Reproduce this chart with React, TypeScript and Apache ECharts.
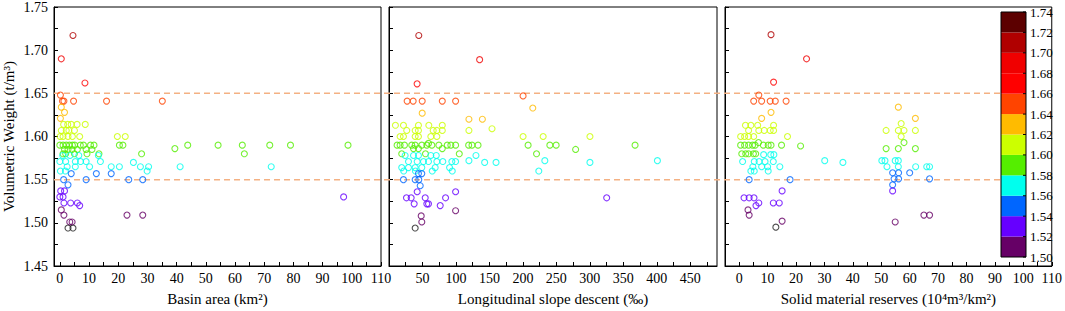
import React, { useEffect, useRef } from "react";
import * as echarts from "echarts";

// ---------- data ----------
const basinArea: number[][] = [
  [4.5, 1.717], [0.5, 1.69], [8.6, 1.662], [0.2, 1.648], [0.9, 1.641], [1.4, 1.641], [4.7, 1.641], [16, 1.641], [35.1, 1.641],
  [0.5, 1.634], [1.6, 1.628], [0.2, 1.621],
  [1.3, 1.614], [2.7, 1.614], [3.9, 1.614], [5.9, 1.614], [8.7, 1.614],
  [0.5, 1.607], [2.2, 1.607], [3.1, 1.607], [5, 1.607],
  [0.1, 1.6], [1.1, 1.6], [2.8, 1.6], [4.3, 1.6], [6.8, 1.6], [19.7, 1.6], [22.4, 1.6],
  [0, 1.59], [1.1, 1.59], [2.2, 1.59], [3.3, 1.59], [4.3, 1.59], [5.1, 1.59], [7, 1.59], [8.1, 1.59], [10.5, 1.59], [11.7, 1.59],
  [20.4, 1.59], [21.6, 1.59], [43.8, 1.59], [54.2, 1.59], [62.5, 1.59], [71.9, 1.59], [79, 1.59], [98.7, 1.59],
  [1.6, 1.585], [2.8, 1.585], [4.2, 1.585], [6, 1.585], [9, 1.585], [11, 1.585], [39.4, 1.586],
  [1.1, 1.58], [2, 1.58], [5, 1.58], [9.3, 1.58], [13.4, 1.58], [28, 1.58], [63.2, 1.58],
  [1, 1.578], [3.5, 1.578], [6.5, 1.578], [13.2, 1.578],
  [0, 1.571], [2, 1.571], [5.3, 1.571], [7.1, 1.571], [9, 1.571], [13.9, 1.571], [25.2, 1.57],
  [2.5, 1.565], [5.3, 1.565], [10.2, 1.565], [17.6, 1.565], [20.4, 1.565], [27.6, 1.565], [30.4, 1.565], [41.2, 1.565], [72.4, 1.565],
  [0.2, 1.56], [1.9, 1.56], [29.9, 1.56],
  [3.9, 1.557], [12.5, 1.557], [17.6, 1.557],
  [1.3, 1.55], [9, 1.55], [23.6, 1.55], [28.4, 1.55],
  [2.8, 1.544], [0.3, 1.537], [1.6, 1.537],
  [0, 1.53], [1.1, 1.53], [97.2, 1.53],
  [1.4, 1.523], [3.7, 1.523], [6, 1.523], [6.8, 1.52],
  [0.5, 1.515], [1.4, 1.509], [23, 1.509], [28.4, 1.509],
  [3.4, 1.501], [4.2, 1.501],
  [2.8, 1.494], [4.5, 1.494],
];

const slopeDescent: number[][] = [
  [44.5, 1.717], [135.4, 1.689], [42, 1.661], [200.3, 1.647],
  [27.1, 1.641], [36.1, 1.641], [49.6, 1.641], [79.6, 1.641], [99.5, 1.641],
  [214.8, 1.633], [49.6, 1.627], [119.4, 1.62], [139.5, 1.62],
  [9.6, 1.613], [21.6, 1.613], [44, 1.613], [59.5, 1.613], [79.6, 1.613],
  [26.5, 1.607], [39.1, 1.607], [44, 1.607], [66, 1.607], [71.5, 1.607], [79.6, 1.607], [119.4, 1.607], [153.9, 1.609],
  [16.6, 1.6], [21.6, 1.6], [39.1, 1.6], [44, 1.6], [62.5, 1.6], [71.5, 1.6], [200.3, 1.6], [230.3, 1.6], [300.2, 1.6],
  [59, 1.592],
  [12.1, 1.59], [16.6, 1.59], [23.1, 1.59], [34, 1.59], [39.1, 1.59], [49, 1.59], [56.5, 1.59], [64, 1.59], [74.5, 1.59], [87, 1.59],
  [92.4, 1.59], [99.5, 1.59], [119, 1.59], [124, 1.59], [133, 1.59], [207.8, 1.59], [240.3, 1.59], [249.7, 1.59], [367.6, 1.59],
  [36.6, 1.586], [44, 1.586], [79.6, 1.586], [278.8, 1.585],
  [19, 1.58], [54.5, 1.58], [105, 1.58], [220.4, 1.58],
  [24.1, 1.578], [36.6, 1.578], [44, 1.578], [62.5, 1.578], [70.6, 1.578], [129.9, 1.578],
  [119.4, 1.572], [232.8, 1.572], [401, 1.572],
  [29.1, 1.571], [42.1, 1.571], [51.5, 1.571], [59, 1.571], [71.5, 1.571], [80.4, 1.571], [93.9, 1.571], [99.5, 1.571],
  [142.9, 1.57], [159.9, 1.57], [300.2, 1.57],
  [19, 1.564], [29.1, 1.564], [39.1, 1.564], [49, 1.564], [69, 1.564], [90.5, 1.564],
  [22, 1.56], [39.5, 1.56], [64.6, 1.56], [94.5, 1.56], [223.8, 1.56],
  [44, 1.557], [49, 1.557],
  [21.6, 1.55], [39.1, 1.55], [44.5, 1.55],
  [46.6, 1.543], [42.1, 1.536], [99.5, 1.536],
  [26.1, 1.529], [33.1, 1.529], [54.1, 1.529], [84.5, 1.529], [325.2, 1.529],
  [37.6, 1.522], [56.5, 1.522], [59, 1.522], [76.5, 1.52],
  [99.5, 1.514], [48.1, 1.508], [49, 1.501], [39.1, 1.494],
];

const solidReserves: number[][] = [
  [11.2, 1.718], [23.7, 1.69], [12.1, 1.663], [6.9, 1.648],
  [5.1, 1.641], [7.9, 1.641], [10.9, 1.641], [12.7, 1.641], [16.5, 1.641],
  [11.2, 1.628], [7.9, 1.621], [56, 1.634], [62, 1.621],
  [2.2, 1.613], [4.1, 1.613], [6.5, 1.613], [12.1, 1.613], [57, 1.615],
  [3.3, 1.607], [6.9, 1.607], [8.8, 1.607], [10.9, 1.607], [12.1, 1.607], [51.7, 1.607], [56, 1.607], [58, 1.607], [62, 1.607],
  [0.5, 1.6], [1.9, 1.6], [3.3, 1.6], [5.1, 1.6], [17, 1.6], [57, 1.6],
  [6.8, 1.593], [58, 1.593],
  [0.5, 1.59], [1.9, 1.59], [3.3, 1.59], [4.7, 1.59], [5.6, 1.59], [8.5, 1.59], [10.2, 1.59], [11.2, 1.59], [14.9, 1.59], [21.6, 1.589],
  [51.7, 1.586], [56, 1.586], [62, 1.586],
  [0.9, 1.58], [2.3, 1.58], [3.3, 1.58], [5, 1.58], [5.8, 1.58],
  [8.6, 1.579], [11.1, 1.579], [12.2, 1.579],
  [1.2, 1.571], [5.3, 1.571], [7, 1.571], [9.1, 1.571], [12, 1.571], [30.1, 1.572], [36.5, 1.57],
  [50.2, 1.572], [51.3, 1.572], [54.9, 1.572], [56, 1.572],
  [4.8, 1.565], [7.9, 1.565], [10, 1.565], [14.3, 1.565], [52, 1.565], [56, 1.565], [62.1, 1.565], [66, 1.565], [67, 1.565],
  [4.1, 1.56], [5.3, 1.56], [10.2, 1.56],
  [54, 1.558], [56.1, 1.558], [60, 1.558],
  [3.5, 1.55], [17.9, 1.55], [54.5, 1.551], [56.1, 1.551], [67, 1.551],
  [54, 1.544], [15.1, 1.537], [54, 1.537],
  [1.7, 1.529], [3.5, 1.529], [5.2, 1.529],
  [6.9, 1.523], [12, 1.523], [14.1, 1.523], [5.9, 1.52],
  [3.1, 1.515], [3.5, 1.509], [65, 1.509], [67, 1.509],
  [15.1, 1.502], [54.9, 1.501], [12.9, 1.495],
];

const thresholds = [1.55, 1.65];
const bandEdges = [1.5, 1.52, 1.54, 1.56, 1.58, 1.6, 1.62, 1.64, 1.66, 1.68, 1.7, 1.72, 1.74];
const bandColors = ["#660066", "#6600ff", "#0066ff", "#00ffee", "#55ee00", "#ccff00", "#ffbb00", "#ff4400", "#ff0000", "#f00000", "#b00000", "#5c0000"];
const belowColor = "#222222";

const xTicks1 = [0, 5, 10, 15, 20, 25, 30, 35, 40, 45, 50, 55, 60, 65, 70, 75, 80, 85, 90, 95, 100, 105, 110];
const xLabels1 = [0, 10, 20, 30, 40, 50, 60, 70, 80, 90, 100, 110];
const xTicks2 = [0, 25, 50, 75, 100, 125, 150, 175, 200, 225, 250, 275, 300, 325, 350, 375, 400, 425, 450, 475];
const xLabels2 = [50, 100, 150, 200, 250, 300, 350, 400, 450];
const xTicks3 = xTicks1;
const xLabels3 = xLabels1;

const FONT = "Liberation Serif";

function bandColor(v: number): string {
  if (v < bandEdges[0]) return belowColor;
  for (let i = 0; i < bandColors.length; i++) {
    if (v < bandEdges[i + 1]) return bandColors[i];
  }
  return bandColors[bandColors.length - 1];
}

export default function App() {
  const ref = useRef<HTMLDivElement>(null);
  useEffect(() => {
    if (!ref.current) return;
    const chart = echarts.init(ref.current, undefined, { renderer: "svg" });

    const grids = [
      { left: 52, top: 7, width: 329, height: 260 },
      { left: 389, top: 7, width: 328, height: 260 },
      { left: 725, top: 7, width: 329, height: 260 },
    ].map((g) => ({ ...g, show: true, borderColor: "#000", borderWidth: 1, backgroundColor: "transparent" }));

    const mkX = (i: number, min: number, max: number, ticks: number[], labels: number[], name: string) => ({
      gridIndex: i,
      type: "value",
      min,
      max,
      name,
      nameLocation: "middle",
      nameGap: 25,
      nameTextStyle: { fontFamily: FONT, fontSize: 15, color: "#000" },
      axisLine: { show: true, onZero: false, lineStyle: { color: "#000", width: 1 } },
      axisTick: { show: true, inside: true, length: 4, customValues: ticks, lineStyle: { color: "#000" } },
      axisLabel: { customValues: labels, fontFamily: FONT, fontSize: 14, color: "#000", margin: 5 },
      splitLine: { show: false },
    });
    const mkY = (i: number, showLabel: boolean) => ({
      gridIndex: i,
      type: "value",
      min: 1.45,
      max: 1.75,
      interval: 0.05,
      name: showLabel ? "Volumetric Weight (t/m³)" : "",
      nameLocation: "middle",
      nameGap: 38,
      nameTextStyle: { fontFamily: FONT, fontSize: 15, color: "#000" },
      axisLine: { show: true, onZero: false, lineStyle: { color: "#000", width: 1 } },
      axisTick: { show: true, inside: true, length: 4, lineStyle: { color: "#000" } },
      minorTick: { show: true, splitNumber: 2, length: 4, lineStyle: { color: "#000" } },
      axisLabel: { show: showLabel, fontFamily: FONT, fontSize: 14, color: "#000", margin: 6, formatter: (v: number) => v.toFixed(2) },
      splitLine: { show: false },
      minorSplitLine: { show: false },
    });

    const mkSeries = (i: number, data: number[][]) => ({
      type: "scatter",
      xAxisIndex: i,
      yAxisIndex: i,
      symbol: "circle",
      symbolSize: 6,
      z: 3,
      data: data.map((d) => ({
        value: d,
        itemStyle: { color: "transparent", borderColor: bandColor(d[1]), borderWidth: 1.1 },
      })),
    });

    chart.setOption({
      animation: false,
      textStyle: { fontFamily: FONT },
      grid: grids,
      xAxis: [
        mkX(0, -2, 110, xTicks1, xLabels1, "Basin area (km²)"),
        mkX(1, 0, 490, xTicks2, xLabels2, "Longitudinal slope descent (‰)"),
        mkX(2, -5, 110, xTicks3, xLabels3, "Solid material reserves (10⁴m³/km²)"),
      ],
      yAxis: [mkY(0, true), mkY(1, false), mkY(2, false)],
      series: [mkSeries(0, basinArea), mkSeries(1, slopeDescent), mkSeries(2, solidReserves)],
    });

    // colour bar + threshold lines
    const barLeft = 1001, barRight = 1026, barTop = 12, barBottom = 257;
    const bandH = (barBottom - barTop) / bandColors.length;
    const graphics: any[] = [];
    thresholds.forEach((t, k) => {
      const p = chart.convertToPixel({ gridIndex: 0 }, [0, t]) as number[];
      graphics.push({
        type: "line",
        id: "thr" + k,
        z: 1,
        shape: { x1: 54, y1: p[1], x2: barLeft, y2: p[1] },
        style: { stroke: "#f4b183", lineWidth: 1.5, lineDash: [6, 4] },
      });
    });
    bandColors.forEach((c, i) => {
      graphics.push({
        type: "rect",
        z: 10,
        shape: { x: barLeft, y: barBottom - (i + 1) * bandH, width: barRight - barLeft, height: bandH },
        style: { fill: c, stroke: null },
      });
    });
    graphics.push({
      type: "rect",
      z: 11,
      shape: { x: barLeft, y: barTop, width: barRight - barLeft, height: barBottom - barTop },
      style: { fill: "transparent", stroke: "#000", lineWidth: 1 },
    });
    bandEdges.forEach((e, i) => {
      const y = barBottom - i * bandH;
      graphics.push({
        type: "line",
        z: 11,
        shape: { x1: barRight - 3, y1: y, x2: barRight, y2: y },
        style: { stroke: "#000", lineWidth: 1 },
      });
      graphics.push({
        type: "text",
        z: 11,
        x: barRight + 4,
        y,
        style: { text: e.toFixed(2), fontFamily: FONT, fontSize: 13, fill: "#000", verticalAlign: "middle", align: "left" },
      });
    });
    chart.setOption({ graphic: graphics });

    return () => chart.dispose();
  }, []);

  return <div ref={ref} style={{ position: "fixed", left: 0, top: 0, width: 1065, height: 311, background: "#fff" }} />;
}
